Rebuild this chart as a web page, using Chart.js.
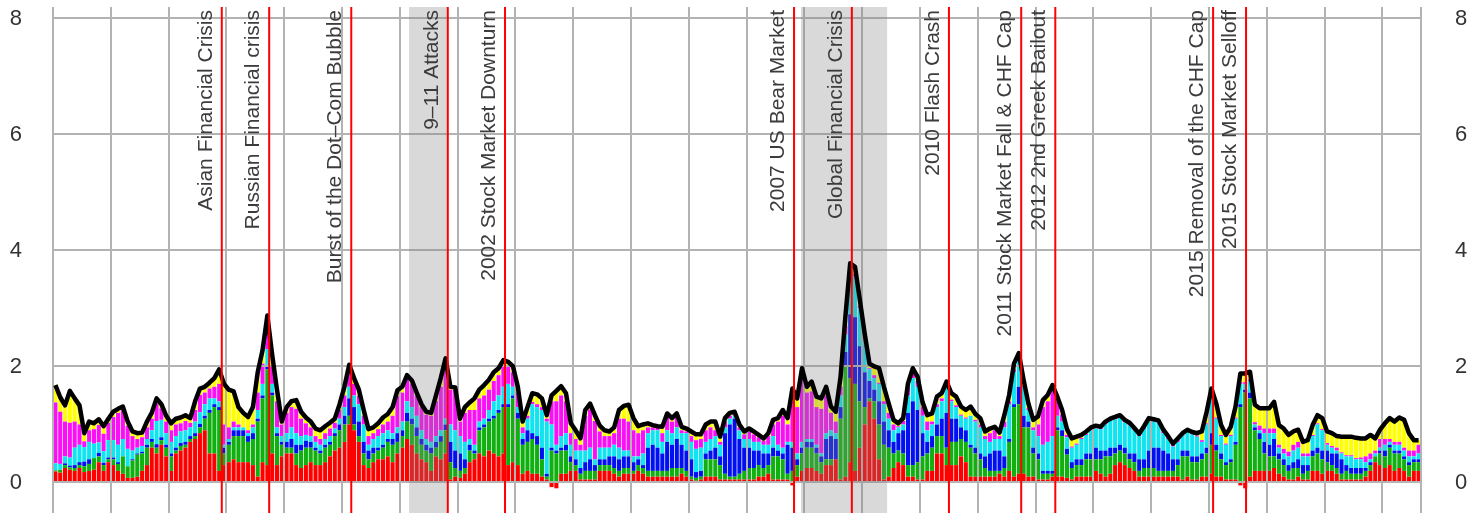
<!DOCTYPE html>
<html>
<head>
<meta charset="utf-8">
<script src="https://cdn.jsdelivr.net/npm/chart.js@4.4.1/dist/chart.umd.min.js"></script>
<style>
  html, body { margin: 0; padding: 0; background: #fff; }
  #wrap { position: relative; width: 1481px; height: 513px; }
</style>
</head>
<body>
<div id="wrap"><canvas id="chart"></canvas></div>
<script>
// monthly bars, Jan 1995 .. Aug 2018
const startYear = 1995;

const red = [
  0.19,0.17,0.25,0.22,0.2,0.25,0.18,0.2,0.22,0.35,0.2,0.35,
  0.3,0.2,0.15,0.08,0.08,0.1,0.2,0.3,0.6,0.5,0.65,0.45,
  0.2,0.5,0.55,0.6,0.7,0.75,0.85,0.9,0.5,0.5,0.2,0.3,
  0.35,0.4,0.35,0.35,0.35,0.3,0.1,0.35,0.3,0.5,0.3,0.45,
  0.5,0.5,0.3,0.25,0.3,0.35,0.3,0.3,0.35,0.45,0.55,0.6,
  0.7,1.0,0.9,0.7,0.3,0.25,0.35,0.4,0.4,0.45,0.35,0.5,
  0.6,0.75,0.65,0.5,0.4,0.35,0.2,0.45,0.4,0.5,0.05,0.1,
  0.08,0.15,0.35,0.4,0.5,0.45,0.55,0.5,0.45,0.5,0.3,0.35,
  0.3,0.15,0.2,0.15,0.15,0.1,0.05,-0.08,-0.1,0.15,0.15,0.2,
  0.2,0.05,0.05,0.05,0.05,0.2,0.2,0.2,0.15,0.1,0.15,0.15,
  0.15,0.2,0.15,0.1,0.1,0.1,0.1,0.1,0.1,0.1,0.15,0.1,
  0.05,0.03,0.05,0.1,0.1,0.1,0.05,0.05,0.05,0.05,0.05,0.05,
  0.05,0.05,0.1,0.1,0.15,0.05,0.05,0.05,0.05,-0.05,0.1,0.2,
  0.25,0.25,0.2,0.15,0.3,0.3,0.4,0.05,0.1,0.35,0.2,0.6,
  1.0,1.4,1.1,0.4,0.05,0.1,0.25,0.35,0.3,0.1,0.1,0.05,
  0.05,0.2,0.2,0.5,0.5,0.3,0.3,0.3,0.45,0.35,0.1,0.1,
  0.1,0.1,0.1,0.1,0.15,0.1,0.2,0.1,0.15,0.15,0.1,0.1,
  0.05,0.05,0.05,0.1,0.1,0.1,0.08,0.05,0.1,0.1,0.1,0.1,
  0.2,0.15,0.1,0.15,0.3,0.35,0.3,0.25,0.2,0.1,0.1,0.1,
  0.1,0.1,0.1,0.1,0.1,0.1,0.05,0.1,0.05,0.05,0.1,0.1,
  0.15,0.1,0.1,0.05,0.05,0.05,-0.05,-0.1,0.1,0.2,0.2,0.2,
  0.2,0.25,0.15,0.1,0.05,0.05,0.1,0.05,0.05,0.2,0.2,0.15,
  0.2,0.2,0.15,0.05,0.05,0.05,0.05,0.05,0.1,0.2,0.35,0.3,
  0.25,0.3,0.2,0.25,0.2,0.1,0.2,0.2
];

const green = [
  0.02,0.05,0.05,0.04,0.05,0.05,0.1,0.12,0.2,0.1,0.1,0.05,
  0.1,0.12,0.3,0.2,0.3,0.38,0.3,0.3,0.1,0.1,0.08,0.15,
  0.25,0.05,0.08,0.05,0.05,0.05,0.1,0.2,0.7,0.8,1.05,0.2,
  0.3,0.4,0.45,0.45,0.35,0.45,0.95,1.1,1.65,1.0,0.5,0.2,
  0.1,0.1,0.2,0.3,0.3,0.25,0.25,0.2,0.25,0.2,0.25,0.3,
  0.3,0.15,0.1,0.1,0.2,0.15,0.15,0.15,0.2,0.25,0.3,0.2,
  0.2,0.3,0.35,0.3,0.25,0.2,0.3,0.15,0.3,0.4,0.3,0.15,
  0.12,0.1,0.2,0.1,0.4,0.5,0.5,0.6,0.75,0.8,1.0,1.1,
  0.8,0.5,0.5,0.6,0.5,0.3,0.05,0.55,0.5,0.4,0.4,0.15,
  0.1,0.1,0.15,0.15,0.15,0.1,0.1,0.1,0.1,0.1,0.1,0.1,
  0.05,0.1,0.1,0.1,0.1,0.1,0.1,0.1,0.15,0.15,0.1,0.1,
  0.05,0.05,0.05,0.3,0.3,0.3,0.25,0.1,0.05,0.05,0.1,0.15,
  0.2,0.2,0.2,0.15,0.15,0.4,0.4,0.35,0.1,0.2,0.2,0.3,
  0.35,0.35,0.3,0.2,0.1,0.1,0.0,1.05,1.9,1.45,1.5,0.8,
  0.3,0.05,0.3,0.6,0.6,0.5,0.25,0.2,0.2,0.2,0.2,0.3,
  0.4,0.3,0.4,0.3,0.3,0.3,0.4,0.4,0.3,0.35,0.5,0.4,
  0.3,0.15,0.1,0.1,0.05,0.15,0.5,1.2,1.2,0.8,0.85,0.4,
  0.35,0.1,0.1,0.05,0.8,0.7,0.4,0.2,0.2,0.2,0.3,0.3,
  0.2,0.25,0.35,0.3,0.2,0.2,0.2,0.15,0.15,0.1,0.15,0.15,
  0.15,0.1,0.1,0.1,0.1,0.2,0.4,0.35,0.3,0.3,0.3,0.4,
  0.5,0.45,0.3,0.25,0.3,0.6,1.3,1.55,1.35,0.7,0.55,0.3,
  0.25,0.2,0.25,0.2,0.15,0.2,0.15,0.1,0.15,0.25,0.3,0.25,
  0.15,0.1,0.1,0.1,0.15,0.1,0.1,0.1,0.1,0.1,0.1,0.2,
  0.2,0.3,0.3,0.25,0.2,0.2,0.15,0.15
];

const blue = [
  0,0,0.03,0.03,0.05,0.05,0.08,0.08,0,0.06,0.04,0.03,
  0.03,0.03,0,0,0.02,0.02,0.03,0.05,0.05,0.06,0.05,0.05,
  0.05,0.05,0.05,0.05,0.05,0.05,0.06,0.05,0.05,0.05,0.05,0.1,
  0.05,0.1,0.1,0.1,0.1,0.1,0.05,0.05,0.05,0.05,0.05,0.05,
  0.1,0.15,0.15,0.1,0.12,0.1,0.05,0.05,0.05,0.05,0.05,0.1,
  0.15,0.3,0.3,0.25,0.2,0.15,0.1,0.05,0.05,0.05,0.1,0.15,
  0.1,0.15,0.1,0.15,0.1,0.1,0.1,0.1,0.1,0.1,0.35,0.3,
  0.3,0.15,0.1,0.05,0.05,0.05,0.05,0.05,0.05,0.05,0.05,0.05,
  0.1,0.1,0.2,0.1,0.15,0.2,0.05,0.05,0.05,0.05,0.1,0.1,
  0.1,0.1,0.15,0.2,0.1,0.1,0.1,0.15,0.2,0.2,0.2,0.2,
  0.15,0.1,0.05,0.4,0.45,0.4,0.3,0.5,0.4,0.5,0.4,0.35,
  0.3,0.1,0.1,0.1,0.15,0.2,0.15,0.7,0.9,1.0,0.6,0.4,
  0.35,0.3,0.25,0.25,0.2,0.15,0.1,0.1,0.5,0.4,0.1,0.1,
  0.1,0.1,0.1,0.1,0.35,0.4,0.35,0.2,0.25,1.1,1.15,0.95,
  0.6,0.3,0.2,0.4,0.4,0.3,0.2,0.3,0.4,0.9,1.1,0.9,
  0.4,0.2,0.2,0.2,0.3,0.6,0.4,0.4,0.2,0.2,0.05,0.1,
  0.1,0.2,0.3,0.35,0.35,0.2,0.05,0.05,0.3,0.2,0.1,0.1,
  0.1,0.05,0.05,0.05,0.05,0.1,0.1,0.1,0.1,0.1,0.1,0.1,
  0.2,0.15,0.1,0.15,0.1,0.1,0.1,0.1,0.15,0.2,0.15,0.3,
  0.35,0.4,0.35,0.3,0.2,0.1,0.1,0.1,0.1,0.1,0.1,0.1,
  0.2,0.1,0.1,0.05,0.05,0.05,0.05,0.05,0.1,0.05,0.1,0.2,
  0.2,0.3,0.1,0.1,0.1,0.1,0.15,0.15,0.1,0.1,0.1,0.15,
  0.2,0.2,0.25,0.25,0.1,0.1,0.1,0.1,0.05,0.05,0,0.05,
  0.1,0.05,0.05,0.05,0.05,0.05,0.05,0.05
];

const cyan = [
  0.12,0.1,0.12,0.14,0.3,0.3,0.25,0.3,0.25,0.18,0.2,0.3,
  0.3,0.3,0.3,0.3,0.15,0.1,0.1,0.1,0.15,0.4,0.3,0.2,
  0.2,0.2,0.2,0.2,0.15,0.2,0.2,0.2,0.2,0.1,0.1,0.05,
  0.05,0.05,0.05,0.05,0.05,0.1,0.15,0.2,0.3,0.15,0.1,0.1,
  0.15,0.2,0.2,0.15,0.1,0.1,0.1,0.1,0.1,0.1,0.08,0.1,
  0.15,0.2,0.2,0.3,0.3,0.1,0.15,0.2,0.2,0.15,0.1,0.1,
  0.15,0.2,0.2,0.2,0.15,0.1,0.1,0.1,0.1,0.1,0.3,0.35,
  0.3,0.3,0.1,0.1,0.1,0.1,0.15,0.25,0.25,0.3,0.35,0.15,
  0.1,0.1,0.2,0.5,0.5,0.65,0.9,0.4,0.1,0.2,0.2,0.2,
  0.15,0.3,0.2,0.2,0.1,0.2,0.2,0.15,0.2,0.2,0.1,0.1,
  0.1,0.05,0.2,0.25,0.25,0.3,0.2,0.2,0.2,0.2,0.2,0.3,
  0.3,0.4,0.4,0.2,0.2,0.2,0.2,0.1,0.1,0.05,0.15,0.15,
  0.15,0.15,0.15,0.15,0.15,0.2,0.1,0.1,0.05,0.1,0.1,0.1,
  0.05,0.05,0.05,0.05,0.1,0.1,0.1,0.2,0.3,0.6,0.7,0.65,
  0.55,0.2,0.2,0.3,0.3,0.2,0.2,0.1,0.1,0.3,0.4,0.4,
  0.3,0.2,0.2,0.3,0.3,0.45,0.3,0.2,0.2,0.2,0.5,0.45,
  0.45,0.3,0.2,0.2,0.2,0.5,0.6,0.55,0.45,0.5,0.2,0.3,
  0.3,0.45,0.5,0.6,0.2,0.15,0.2,0.25,0.25,0.35,0.32,0.4,
  0.33,0.37,0.46,0.46,0.49,0.47,0.44,0.49,0.4,0.4,0.52,0.52,
  0.45,0.43,0.3,0.25,0.22,0.3,0.26,0.32,0.38,0.34,0.2,0.4,
  0.6,0.45,0.3,0.3,0.4,0.4,0.35,0.1,0.2,0.05,0.05,0.15,
  0.2,0.1,0.1,0.1,0.15,0.2,0.2,0.15,0.15,0.25,0.4,0.35,
  0.1,0.1,0.05,0.1,0.15,0.2,0.15,0.15,0.1,0.05,0.05,0.05,
  0.1,0.05,0.1,0.1,0.1,0.1,0.05,0.1
];

const magenta = [
  1.05,0.9,0.6,0.6,0.45,0.35,0.1,0.2,0.25,0.3,0.3,0.3,
  0.4,0.55,0.5,0.4,0.25,0.15,0.15,0.2,0.2,0.3,0.2,0.2,
  0.2,0.2,0.14,0.16,0.08,0.2,0.3,0.2,0.17,0.2,0.3,0.35,
  0.2,0.1,0.05,0,0.05,0.05,0.3,0.35,0.4,0.3,0.45,0.2,
  0.35,0.35,0.42,0.3,0.2,0.15,0.1,0.1,0.1,0.13,0.1,0.15,
  0.2,0.25,0.2,0.15,0.15,0.15,0.1,0.12,0.15,0.15,0.3,0.54,
  0.5,0.4,0.4,0.35,0.4,0.42,0.45,0.6,0.75,0.9,0.6,0.7,
  0.25,0.5,0.5,0.6,0.4,0.4,0.35,0.35,0.35,0.35,0.3,0.25,
  0.25,0.1,0.05,0.04,0.05,0.05,0.05,0.4,0.75,0.7,0.55,0.2,
  0.2,0.1,0.6,0.66,0.66,0.28,0.2,0.2,0.2,0.5,0.55,0.5,
  0.45,0.4,0.4,0.1,0.05,0.05,0.15,0.25,0.2,0.2,0.05,0.03,
  0.1,0.15,0.15,0.2,0.2,0.1,0.05,0.1,0.05,0.03,0.05,0.08,
  0.13,0.13,0.08,0.07,0.15,0.2,0.4,0.55,0.3,0.7,0.8,1.1,
  0.8,0.82,0.65,0.77,0.65,0.3,0.2,0.15,0.15,0.1,0.05,0.05,
  0.02,0.02,0.05,0.02,0.05,0.1,0.1,0.02,0.06,0.15,0.1,0.1,
  0.15,0.15,0.05,0.05,0.05,0.04,0.03,0.03,0.02,0.02,0,0.03,
  0.05,0.05,0.15,0.15,0.05,0.1,0.05,0.05,0.03,0.02,0.03,0.05,
  0.2,0.65,0.7,0.8,0.28,0.12,0.04,0.02,0.02,0.02,0.02,0.02,
  0.02,0.02,0.02,0.02,0.02,0.02,0.02,0.02,0.02,0.02,0.02,0.02,
  0.02,0.02,0.03,0.03,0.03,0.04,0.02,0.02,0.02,0.02,0.03,0.02,
  0.02,0.02,0.02,0.02,0.02,0.02,0.03,0.03,0.03,0.04,0.08,0.08,
  0.08,0.08,0.05,0.08,0.08,0.1,0.1,0.05,0.05,0.02,0.02,0.02,
  0.03,0.03,0.05,0.02,0.02,0.02,0.02,0.03,0.1,0.1,0.05,0.15,
  0.1,0.05,0.05,0.05,0.05,0.1,0.1,0.15
];

const yellow = [
  0.3,0.25,0.28,0.55,0.4,0.33,0.14,0.15,0.1,0.1,0.13,0.07,
  0.09,0.07,0.06,0.07,0.08,0.1,0.08,0.1,0.1,0.09,0.07,0.1,
  0.12,0.1,0.1,0.1,0.08,0.15,0.11,0.1,0.1,0.15,0.25,0.7,
  0.65,0.52,0.3,0.25,0.23,0.3,0.35,0.23,0.18,0.2,0.2,0.05,
  0.1,0.1,0.15,0.12,0.1,0.1,0.13,0.15,0.12,0.1,0.07,0.1,
  0.15,0.13,0.1,0.1,0.1,0.12,0.1,0.1,0.12,0.13,0.15,0.1,
  0.1,0.05,0.06,0.05,0.05,0.05,0.05,0.1,0.15,0.14,0.05,0.04,
  0.05,0.1,0.13,0.2,0.15,0.18,0.17,0.15,0.12,0.11,0.08,0.1,
  0.1,0.1,0.15,0.15,0.17,0.15,0.06,0.1,0.18,0.16,0.14,0.17,
  0.15,0.11,0.1,0.1,0.1,0.1,0.1,0.08,0.1,0.15,0.22,0.29,
  0.21,0.12,0.1,0.07,0.04,0.02,0.11,0.04,0.06,0.04,0.06,0.05,
  0.08,0.1,0.08,0.1,0.1,0.15,0.09,0.06,0.05,0.04,0.05,0.05,
  0.05,0.05,0.04,0.04,0.05,0.08,0.06,0.1,0.11,0.22,0.15,0.17,
  0.1,0.17,0.18,0.18,0.15,0.11,0.17,0.17,0.16,0.18,0.12,0.1,
  0.1,0.08,0.15,0.25,0.25,0.16,0.08,0.05,0.05,0.06,0.07,0.07,
  0.09,0.11,0.14,0.13,0.09,0.05,0.11,0.15,0.14,0.13,0.16,0.1,
  0.11,0.08,0.08,0.06,0.06,0.11,0.11,0.1,0.1,0.1,0.08,0.13,
  0.14,0.12,0.11,0.08,0.05,0.08,0.1,0.14,0.12,0.05,0.04,0.03,
  0.03,0.02,0.02,0.02,0.02,0.02,0.02,0.02,0.02,0.02,0.03,0.02,
  0.02,0.02,0.03,0.02,0.02,0.02,0.02,0.02,0.02,0.04,0.15,0.2,
  0.15,0.24,0.17,0.15,0.14,0.19,0.15,0.15,0.13,0.3,0.3,0.35,
  0.35,0.46,0.34,0.35,0.29,0.23,0.21,0.2,0.23,0.17,0.14,0.19,
  0.2,0.22,0.2,0.27,0.32,0.32,0.35,0.33,0.31,0.32,0.21,0.16,
  0.27,0.36,0.35,0.42,0.48,0.3,0.18,0.08
];

const yTicks = [0, 2, 4, 6, 8];

// shaded periods and event markers, in decimal years
const recessions = [[2001.16, 2001.83], [2007.94, 2009.43]];
const eventYears = [1997.92, 1998.74, 2000.16, 2001.83, 2002.82, 2007.82,
                    2008.82, 2010.50, 2011.75, 2012.34, 2015.07, 2015.64];
const eventLabels = [
  'Asian Financial Crisis', 'Russian Financial crisis', 'Burst of the Dot\u2013Com Bubble',
  '9\u201311 Attacks', '2002 Stock Market Downturn', '2007 US Bear Market',
  'Global Financial Crisis', '2010 Flash Crash', '2011 Stock Market Fall & CHF Cap',
  '2012 2nd Greek Bailout', '2015 Removal of the CHF Cap', '2015 Stock Market Selloff'
];

const months = red.map((_, i) =>
  (startYear + Math.floor(i / 12)) + '-' + String(i % 12 + 1).padStart(2, '0'));
const series = [red, green, blue, cyan, magenta, yellow];
const colors = ['#ff0000', '#10b010', '#0010f0', '#10e4f0', '#fa10f5', '#ffff00'];
const total = months.map((_, i) => series.reduce((s, arr) => s + Math.max(arr[i], 0), 0));

const FONT = '"Liberation Sans", Arial, Helvetica, sans-serif';
const toIndex = yr => (yr - startYear) * 12 - 0.5;

// grid + shading go between the bars and the total line, markers on top
const decorations = {
  id: 'decorations',
  beforeDatasetDraw(chart, args) {
    if (args.index !== series.length) return;
    const { ctx, chartArea: a, scales: { x, y } } = chart;
    ctx.save();
    ctx.strokeStyle = '#b3b3b3';
    ctx.lineWidth = 2;
    ctx.beginPath();
    for (let k = 0; k * 12 < months.length; k++) {
      const px = Math.round(x.getPixelForValue(k * 12 - 0.5));
      ctx.moveTo(px, a.top);
      ctx.lineTo(px, a.bottom);
    }
    ctx.moveTo(Math.round(a.right), a.top);
    ctx.lineTo(Math.round(a.right), a.bottom);
    yTicks.forEach(v => {
      const py = Math.round(y.getPixelForValue(v));
      ctx.moveTo(a.left, py);
      ctx.lineTo(a.right, py);
    });
    ctx.stroke();

    ctx.fillStyle = 'rgba(128,128,128,0.3)';
    recessions.forEach(([s, e]) => {
      const x0 = x.getPixelForValue(toIndex(s));
      const x1 = x.getPixelForValue(toIndex(e));
      ctx.fillRect(x0, a.top, x1 - x0, a.bottom - a.top);
    });
    ctx.restore();
  },
  afterDatasetsDraw(chart) {
    const { ctx, chartArea: a, scales: { x } } = chart;
    ctx.save();
    ctx.strokeStyle = '#ff0000';
    ctx.lineWidth = 2;
    ctx.fillStyle = '#3c3c3c';
    ctx.font = '21px ' + FONT;
    eventYears.forEach((yr, j) => {
      const px = x.getPixelForValue(toIndex(yr));
      ctx.beginPath();
      ctx.moveTo(px, a.top);
      ctx.lineTo(px, a.bottom);
      ctx.stroke();
      ctx.save();
      ctx.translate(px - 10, a.top + 3);
      ctx.rotate(-Math.PI / 2);
      ctx.textAlign = 'right';
      ctx.textBaseline = 'alphabetic';
      ctx.fillText(eventLabels[j], 0, 0);
      ctx.restore();
    });
    ctx.restore();
  }
};

function yAxis(position, padding, width) {
  return {
    position: position,
    stacked: true,
    min: -0.526,
    max: 8.198,
    grid: { display: false, drawTicks: false },
    border: { display: false },
    ticks: { font: { size: 22, family: FONT }, color: '#333333', padding: padding },
    afterBuildTicks: s => { s.ticks = yTicks.map(v => ({ value: v })); },
    afterFit: s => { s.width = width; s.paddingTop = 0; s.paddingBottom = 0; }
  };
}

const barSets = series.map((arr, k) => ({
  type: 'bar',
  data: arr,
  backgroundColor: colors[k],
  borderWidth: 0,
  barPercentage: 0.85,
  categoryPercentage: 1.0,
  stack: 'parts',
  order: 1
}));

new Chart(document.getElementById('chart'), {
  data: {
    labels: months,
    datasets: barSets.concat([{
      type: 'line',
      data: total,
      borderColor: '#000000',
      borderWidth: 4.5,
      borderJoinStyle: 'round',
      pointRadius: 0,
      tension: 0,
      fill: false,
      stack: 'total',
      order: 0
    }])
  },
  options: {
    responsive: true,
    maintainAspectRatio: false,
    animation: false,
    layout: { padding: { top: 7, bottom: 0, left: 0, right: 0 } },
    plugins: { legend: { display: false }, tooltip: { enabled: false } },
    scales: {
      x: { display: false, stacked: true, grid: { display: false } },
      y: yAxis('left', 31, 53),
      y2: yAxis('right', 34, 60)
    }
  },
  plugins: [decorations]
});
</script>
</body>
</html>
